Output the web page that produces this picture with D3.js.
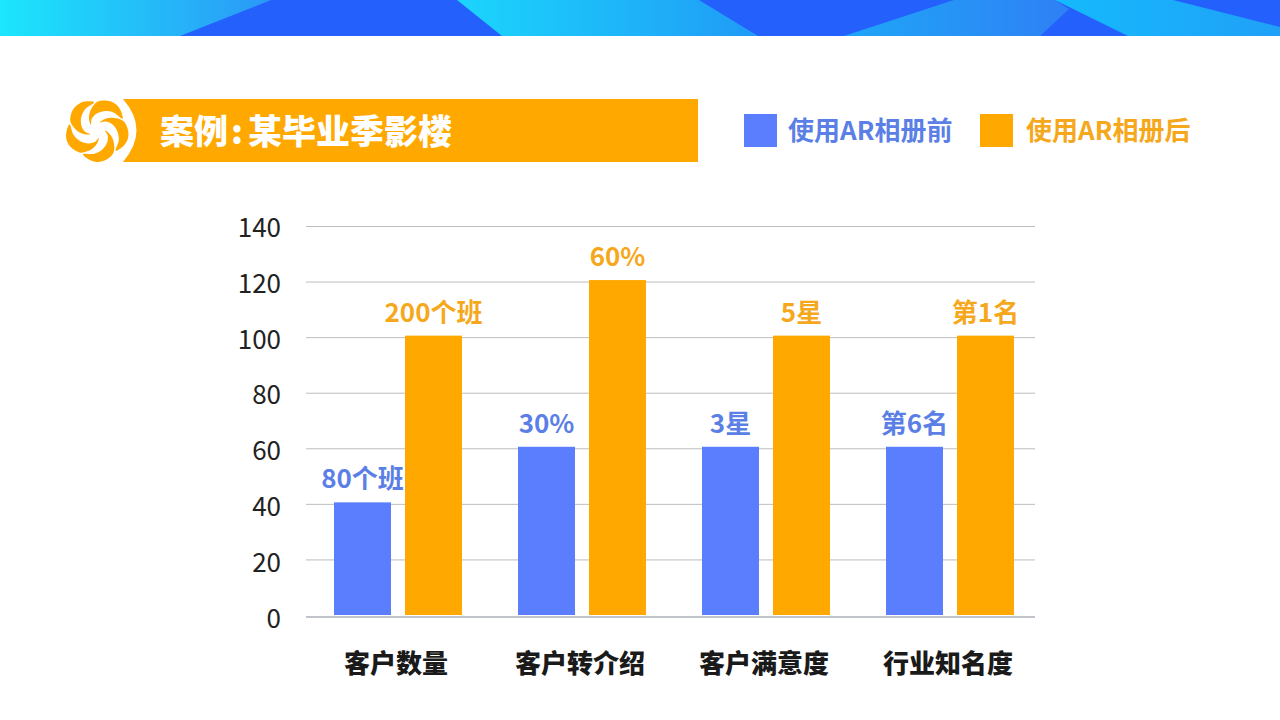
<!DOCTYPE html>
<html>
<head>
<meta charset="utf-8">
<script src="https://cdnjs.cloudflare.com/ajax/libs/d3/7.8.5/d3.min.js"></script>
<style>
  html, body { margin: 0; padding: 0; background: #fff; }
  svg { display: block; }
  text { font-family: "Noto Sans CJK SC", "Noto Sans", sans-serif; }
</style>
</head>
<body>
<div id="chart"></div>
<script>
// Data
const categories = ["客户数量", "客户转介绍", "客户满意度", "行业知名度"];
const seriesNames = ["使用AR相册前", "使用AR相册后"];
const beforeValues = [40, 60, 60, 60];
const afterValues = [100, 120, 100, 100];
const beforeLabels = ["80个班", "30%", "3星", "第6名"];
const afterLabels = ["200个班", "60%", "5星", "第1名"];
const yTicks = [0, 20, 40, 60, 80, 100, 120, 140];
const titleText = "案例:某毕业季影楼";

const blue = "#5b7eff", orange = "#ffa800";
const blueText = "#5b7fe6", orangeText = "#f6a81c";

const svg = d3.select("#chart").append("svg").attr("width", 1280).attr("height", 720);
const defs = svg.append("defs");

// --- Top decorative band ---
function gradient(id, x1, x2, from, to) {
    const g = defs.append("linearGradient").attr("id", id).attr("gradientUnits", "userSpaceOnUse")
        .attr("x1", x1).attr("x2", x2).attr("y1", 0).attr("y2", 0);
    g.append("stop").attr("offset", "0%").attr("stop-color", from);
    g.append("stop").attr("offset", "100%").attr("stop-color", to);
}
gradient("band-a", 0, 275, "#1ce6fc", "#2b97f6");
gradient("band-b", 455, 760, "#1bd6fc", "#209af6");
gradient("band-c", 845, 1070, "#1ea6f7", "#2f80f5");
gradient("band-d", 1040, 1280, "#14bcfc", "#20a0f8");
const bandPolys = [
    { fill: "#2460fb", pts: "0,0 1280,0 1280,36 0,36" },
    { fill: "url(#band-a)", pts: "0,0 271,0 180,36 0,36" },
    { fill: "url(#band-b)", pts: "457,0 699,0 758,36 502,36" },
    { fill: "url(#band-c)", pts: "954,0 1055,0 1069,9 1040,36 844,36" },
    { fill: "url(#band-d)", pts: "1055,0 1173,0 1280,27 1280,36 1128,36" }
];
svg.append("g").selectAll("polygon").data(bandPolys).join("polygon")
    .attr("points", d => d.pts).attr("fill", d => d.fill);

// --- Title banner and logo ---
svg.append("path").attr("d", "M123,99 Q150,130 123,162 H698 V99 Z").attr("fill", orange);
svg.append("text").attr("x", 160).attr("y", 144).attr("font-size", 34).attr("font-weight", 900)
    .attr("dx", "0 0 3 5").attr("fill", "#fff").text(titleText);

// One swirl petal: outer lobe, then two spiral edges meeting at a tip near the centre
const rad = Math.PI / 180;
const petalPts = [];
d3.range(0, 1.01, 0.2).forEach(t => petalPts.push([(66 * t) * rad, 28 + 4 * Math.sin(t * Math.PI)]));
d3.range(0.2, 1.01, 0.2).forEach(t => petalPts.push([(66 - 116 * t) * rad, 28 - 20 * t]));
d3.range(0.75, 0.01, -0.25).forEach(t => petalPts.push([(-50 * t) * rad, 28 - 20 * t]));
const petalPath = d3.lineRadial().curve(d3.curveCatmullRomClosed)(petalPts);
svg.append("g").attr("transform", "translate(97,130)")
    .selectAll("path").data(d3.range(5)).join("path")
    .attr("d", petalPath).attr("fill", orange)
    .attr("transform", i => `rotate(${i * 72})`);

// --- Legend ---
const legendX = d3.scaleOrdinal(seriesNames, [744, 980]);
const legendFill = d3.scaleOrdinal(seriesNames, [blue, orange]);
const legendInk = d3.scaleOrdinal(seriesNames, [blueText, orangeText]);
const legend = svg.append("g").selectAll("g").data(seriesNames).join("g")
    .attr("transform", d => `translate(${legendX(d)},114)`);
legend.append("rect").attr("width", 33).attr("height", 33).attr("fill", d => legendFill(d));
legend.append("text").attr("x", d => d === seriesNames[0] ? 44 : 46).attr("y", 26)
    .attr("font-size", 26).attr("font-weight", 700).attr("fill", d => legendInk(d)).text(d => d);

// --- Scales ---
const y = d3.scaleLinear().domain([0, 140]).range([615, 226]);
const yLabel = d3.scaleLinear().domain([0, 140]).range([619, 228]);
const x0 = d3.scaleBand().domain(categories).range([304, 1040]);
const x1 = d3.scaleBand().domain(seriesNames).range([30, 158]).paddingInner(14 / 71);

// Gridlines
const grid = svg.append("g").attr("transform", "translate(306,0)")
    .call(d3.axisLeft(y).tickValues(yTicks.slice(1)).tickSize(-729).tickFormat(""));
grid.select(".domain").remove();
grid.selectAll("line").attr("stroke", "#bdbdbd").attr("stroke-width", 1);

// Y tick labels
const yAxis = svg.append("g").attr("transform", "translate(281,0)")
    .call(d3.axisLeft(yLabel).tickValues(yTicks).tickSize(0).tickPadding(0));
yAxis.select(".domain").remove();
yAxis.selectAll("text").attr("font-size", 26).attr("fill", "#222")
    .style("font-family", '"Noto Sans CJK SC", sans-serif');

// X axis
const xAxis = svg.append("g").attr("transform", "translate(0,617)")
    .call(d3.axisBottom(x0).tickSize(0).tickPadding(38));
xAxis.select(".domain").attr("d", "M306,0H1035").attr("stroke", "#c2c4cc").attr("stroke-width", 2);
xAxis.selectAll("text").attr("font-size", 26).attr("font-weight", 900).attr("fill", "#1a1a1a")
    .style("font-family", '"Noto Sans CJK SC", sans-serif');

// --- Bars: the blue labels sit under the orange bars, as in the original ---
const barTop = v => y(v) - 1.5;
function drawBars(values, name, fill) {
    svg.append("g").selectAll("rect").data(values).join("rect")
        .attr("x", (d, i) => x0(categories[i]) + x1(name))
        .attr("y", d => barTop(d))
        .attr("width", x1.bandwidth())
        .attr("height", d => y(0) - barTop(d))
        .attr("fill", fill);
}
function drawLabels(values, labels, name, fill) {
    svg.append("g").selectAll("text").data(values).join("text")
        .attr("x", (d, i) => x0(categories[i]) + x1(name) + x1.bandwidth() / 2)
        .attr("y", d => barTop(d) - 14)
        .attr("text-anchor", "middle")
        .attr("font-size", 26).attr("font-weight", 700).attr("fill", fill)
        .text((d, i) => labels[i]);
}
drawBars(beforeValues, seriesNames[0], blue);
drawLabels(beforeValues, beforeLabels, seriesNames[0], blueText);
drawBars(afterValues, seriesNames[1], orange);
drawLabels(afterValues, afterLabels, seriesNames[1], orangeText);
</script>
</body>
</html>
